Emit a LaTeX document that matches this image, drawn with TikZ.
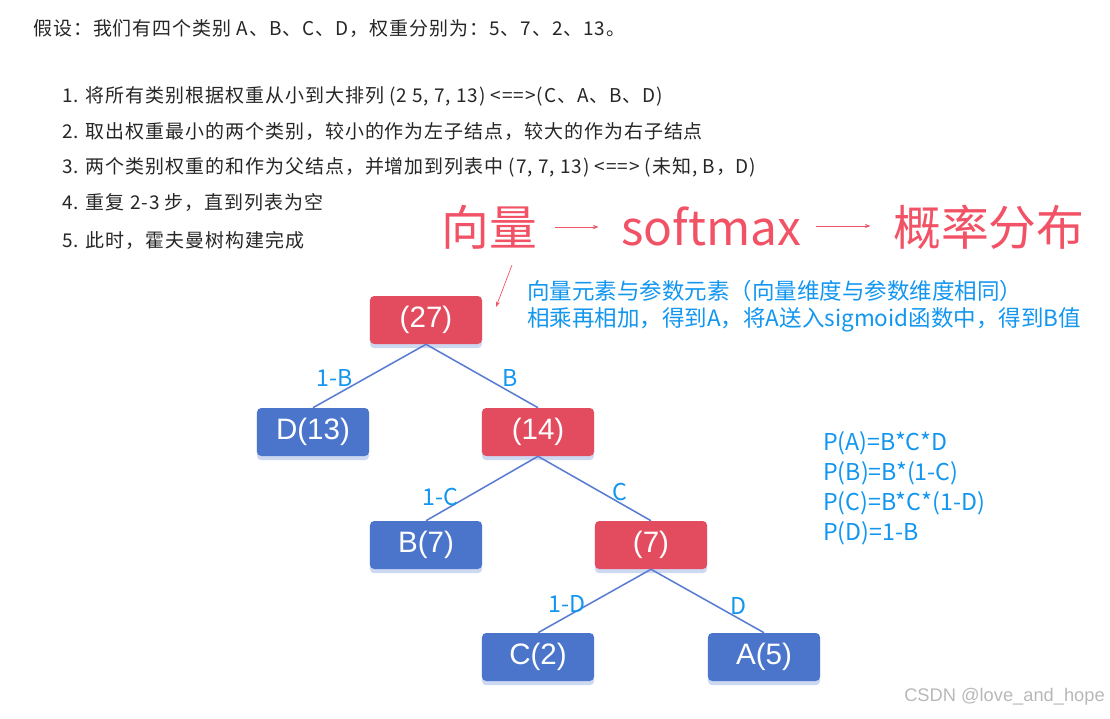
\documentclass[tikz,border=0pt]{standalone}
\usepackage{fontspec}
\setmainfont{Noto Sans CJK SC}
\newfontfamily\arial{Liberation Sans}
\newfontfamily\listfont[LetterSpace=5]{Noto Sans CJK SC}
\usetikzlibrary{shadows,arrows.meta}
\definecolor{boxred}{HTML}{E34C5E}
\definecolor{boxblue}{HTML}{4A75CB}
\definecolor{edgeblue}{HTML}{5A7DD2}
\definecolor{labblue}{HTML}{1296F0}
\definecolor{headred}{HTML}{F25265}
\tikzset{
  treebox/.style={rounded corners=3pt, minimum width=2.8cm, minimum height=1.2cm,
    text=white, font=\arial\fontsize{21}{25}\selectfont,
    drop shadow={shadow xshift=0pt, shadow yshift=-3pt, fill=edgeblue, opacity=.3}},
  redbox/.style={treebox, fill=boxred},
  bluebox/.style={treebox, fill=boxblue},
  edge/.style={draw=edgeblue, line width=1.1pt},
  lab/.style={text=labblue, font=\fontsize{16.5}{19}\selectfont, inner sep=0pt},
  body/.style={anchor=west, inner sep=0pt, text=black!85, font=\listfont\fontsize{13.5}{16}\selectfont},
  head/.style={anchor=base west, inner sep=0pt, text=headred, font=\fontsize{34}{40}\selectfont},
  redarrow/.style={draw=headred, line width=0.7pt, -{Stealth[length=4pt,width=3pt]}}
}
\begin{document}
\begin{tikzpicture}[x=0.025cm, y=-0.025cm]
  \useasboundingbox (0,0) rectangle (1110,718);

  % Text on top
  \node[body] (intro) at (33,29) {假设：我们有四个类别 A、B、C、D，权重分别为：5、7、2、13。};
  \node[body] (st1) at (62,96) {1. 将所有类别根据权重从小到大排列 (2 5, 7, 13) <==>(C、A、B、D)};
  \node[body] (st2) at (62,131) {2. 取出权重最小的两个类别，较小的作为左子结点，较大的作为右子结点};
  \node[body] (st3) at (62,167) {3. 两个类别权重的和作为父结点，并增加到列表中 (7, 7, 13) <==> (未知, B，D)};
  \node[body] (st4) at (62,202) {4. 重复 2-3 步，直到列表为空};
  \node[body] (st5) at (62,240) {5. 此时，霍夫曼树构建完成};

  % Big red heading
  \node[head] (vec) at (441,245) {向量};
  \node[head] (soft) at (621,245) {softmax};
  \node[head] (prob) at (893,245) {概率分布};
  \draw[redarrow, shorten <=13pt, shorten >=16pt] (vec.east |- 0,227) -- (soft.west |- 0,227);
  \draw[redarrow, shorten <=10pt, shorten >=16pt] (soft.east |- 0,226) -- (prob.west |- 0,226);

  % Slanted pointer
  \coordinate (ptop) at (512,265);
  \coordinate (pbot) at (496,307);
  \draw[redarrow, line width=0.5pt] (ptop) -- (pbot);

  % Blue note
  \node[lab, anchor=west, font=\fontsize{16}{19}\selectfont] (note1) at (527,291) {向量元素与参数元素（向量维度与参数维度相同）};
  \node[lab, anchor=west, font=\fontsize{16}{19}\selectfont] (note2) at (527,320) {相乘再相加，得到A，将A送入sigmoid函数中，得到B值};

  % Tree
  \node[redbox] (n27) at (426,320) {(27)};
  \node[bluebox] (d13) at (313,432) {D(13)};
  \node[redbox] (n14) at (538,432) {(14)};
  \node[bluebox] (b7) at (426,545) {B(7)};
  \node[redbox] (n7) at (651,545) {(7)};
  \node[bluebox] (c2) at (538,657) {C(2)};
  \node[bluebox] (a5) at (764,657) {A(5)};

  \draw[edge] (n27.south) -- (d13.north);
  \draw[edge] (n27.south) -- (n14.north);
  \draw[edge] (n14.south) -- (b7.north);
  \draw[edge] (n14.south) -- (n7.north);
  \draw[edge] (n7.south) -- (c2.north);
  \draw[edge] (n7.south) -- (a5.north);

  % Branch labels
  \node[lab] (l1b) at (335,378) {1-B};
  \node[lab] (lb) at (510,378) {B};
  \node[lab] (l1c) at (440,497) {1-C};
  \node[lab] (lc) at (620,492) {C};
  \node[lab] (l1d) at (567,604) {1-D};
  \node[lab] (ld) at (738,606) {D};

  % Probabilities
  \node[lab, anchor=west] (pa) at (823,443) {P(A)=B*C*D};
  \node[lab, anchor=west] (pb) at (823,473) {P(B)=B*(1-C)};
  \node[lab, anchor=west] (pc) at (823,503) {P(C)=B*C*(1-D)};
  \node[lab, anchor=west] (pd) at (823,533) {P(D)=1-B};

  % Watermark
  \node[anchor=east, inner sep=0pt, text=black!28, font=\arial\fontsize{13}{15}\selectfont] (wm) at (1105,697) {CSDN @love\_and\_hope};
\end{tikzpicture}
\end{document}
